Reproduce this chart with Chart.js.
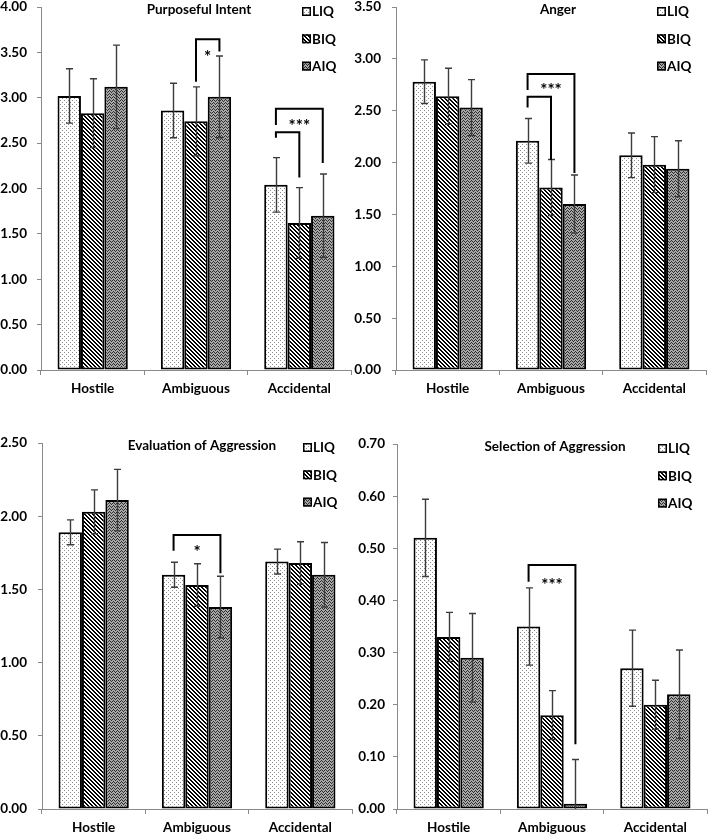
<!DOCTYPE html>
<html><head><meta charset="utf-8">
<script src="https://cdn.jsdelivr.net/npm/chart.js@4.4.1/dist/chart.umd.min.js"></script>
<style>
html,body{margin:0;padding:0;background:#fff;}
body{width:708px;height:836px;position:relative;overflow:hidden;}
.panel{position:absolute;}
</style></head><body>
<div class="panel" style="left:0;top:0;width:354px;height:400px"><canvas id="c1"></canvas></div>
<div class="panel" style="left:354px;top:0;width:354px;height:400px"><canvas id="c2"></canvas></div>
<div class="panel" style="left:0;top:430px;width:354px;height:406px"><canvas id="c3"></canvas></div>
<div class="panel" style="left:354px;top:430px;width:354px;height:406px"><canvas id="c4"></canvas></div>
<script>
const categories = ['Hostile', 'Ambiguous', 'Accidental'];
const groups = ['LIQ', 'BIQ', 'AIQ'];

// Purposeful Intent
const intentLIQ = [3.02, 2.86, 2.04];
const intentBIQ = [2.83, 2.74, 1.62];
const intentAIQ = [3.12, 3.01, 1.70];
const intentLIQErr = [0.30, 0.30, 0.30];
const intentBIQErr = [0.38, 0.38, 0.39];
const intentAIQErr = [0.46, 0.45, 0.46];
const intentBrackets = [
  {cat: 1, from: 1, to: 2, top: 3.645, left: 3.175, right: 3.51},
  {cat: 2, from: 0, to: 2, top: 2.88, left: 2.70, right: 2.28},
  {cat: 2, from: 0, to: 1, top: 2.62, left: 2.56, right: 2.12}
];
const intentStars = [
  {cat: 1, from: 1, to: 2, y: 3.49, text: '*'},
  {cat: 2, from: 0, to: 2, y: 2.73, text: '***'}
];

// Anger
const angerLIQ = [2.78, 2.21, 2.07];
const angerBIQ = [2.64, 1.76, 1.98];
const angerAIQ = [2.53, 1.60, 1.94];
const angerLIQErr = [0.21, 0.215, 0.215];
const angerBIQErr = [0.27, 0.27, 0.27];
const angerAIQErr = [0.27, 0.28, 0.27];
const angerBrackets = [
  {cat: 1, from: 0, to: 2, top: 2.855, left: 2.70, right: 1.90},
  {cat: 1, from: 0, to: 1, top: 2.635, left: 2.53, right: 2.025}
];
const angerStars = [
  {cat: 1, from: 0, to: 2, y: 2.73, text: '***'}
];

// Evaluation of Aggression
const evalLIQ = [1.89, 1.60, 1.69];
const evalBIQ = [2.03, 1.53, 1.68];
const evalAIQ = [2.11, 1.38, 1.60];
const evalLIQErr = [0.085, 0.085, 0.085];
const evalBIQErr = [0.15, 0.145, 0.145];
const evalAIQErr = [0.21, 0.21, 0.22];
const evalBrackets = [
  {cat: 1, from: 0, to: 2, top: 1.872, left: 1.764, right: 1.61}
];
const evalStars = [
  {cat: 1, from: 0, to: 2, y: 1.776, text: '*'}
];

// Selection of Aggression
const selLIQ = [0.52, 0.35, 0.27];
const selBIQ = [0.33, 0.18, 0.20];
const selAIQ = [0.29, 0.01, 0.22];
const selLIQErr = [0.074, 0.074, 0.073];
const selBIQErr = [0.047, 0.047, 0.047];
const selAIQErr = [0.085, 0.085, 0.085];
const selBrackets = [
  {cat: 1, from: 0, to: 2, top: 0.468, left: 0.436, right: 0.124}
];
const selStars = [
  {cat: 1, from: 0, to: 2, y: 0.437, text: '***'}
];

const FONT = 'Lato, "DejaVu Sans", sans-serif';

function makePattern(type) {
  const c = document.createElement('canvas');
  const g = c.getContext('2d');
  if (type === 'dots') {
    c.width = 4; c.height = 4;
    g.fillStyle = '#ffffff'; g.fillRect(0, 0, 4, 4);
    g.fillStyle = '#8c8c8c';
    g.fillRect(0, 0, 1, 1); g.fillRect(2, 2, 1, 1);
  } else if (type === 'diag') {
    c.width = 4; c.height = 4;
    g.fillStyle = '#ffffff'; g.fillRect(0, 0, 4, 4);
    g.fillStyle = '#000000';
    for (let yy = 0; yy < 4; yy++) {
      g.fillRect(yy % 4, yy, 1, 1);
      g.fillRect((yy + 1) % 4, yy, 1, 1);
    }
  } else {
    c.width = 4; c.height = 3;
    g.fillStyle = '#a8a8a8'; g.fillRect(0, 0, 4, 3);
    g.fillStyle = '#2e2e2e';
    const zy = [1, 0, 1, 2];
    for (let xx = 0; xx < 4; xx++) g.fillRect(xx, zy[xx], 1, 1);
  }
  return g.createPattern(c, 'repeat');
}
const fills = [makePattern('dots'), makePattern('diag'), makePattern('zig')];

const overlay = {
  id: 'overlay',
  afterDatasetsDraw(chart, args, opts) {
    const ctx = chart.ctx, a = chart.chartArea, y = chart.scales.y;
    // error bars
    ctx.save();
    ctx.beginPath();
    ctx.rect(a.left, a.top - 30, a.right - a.left, a.bottom - a.top + 30);
    ctx.clip();
    ctx.strokeStyle = '#3c3c3c';
    ctx.lineWidth = 1.4;
    chart.data.datasets.forEach((ds, i) => {
      const meta = chart.getDatasetMeta(i);
      meta.data.forEach((bar, j) => {
        const v = ds.data[j], e = opts.errors[i][j];
        const yt = y.getPixelForValue(v + e), yb = y.getPixelForValue(v - e);
        const cx = Math.round(bar.x) + 0.5;
        ctx.beginPath();
        ctx.moveTo(cx, yt); ctx.lineTo(cx, yb);
        ctx.moveTo(cx - 3.5, yt); ctx.lineTo(cx + 3.5, yt);
        ctx.moveTo(cx - 3.5, yb); ctx.lineTo(cx + 3.5, yb);
        ctx.stroke();
      });
    });
    ctx.restore();
    // brackets
    ctx.save();
    ctx.strokeStyle = '#000';
    ctx.lineWidth = 2;
    opts.brackets.forEach(b => {
      const x1 = chart.getDatasetMeta(b.from).data[b.cat].x;
      const x2 = chart.getDatasetMeta(b.to).data[b.cat].x;
      const yt = y.getPixelForValue(b.top);
      ctx.beginPath();
      ctx.moveTo(x1, y.getPixelForValue(b.left));
      ctx.lineTo(x1, yt);
      ctx.lineTo(x2, yt);
      ctx.lineTo(x2, y.getPixelForValue(b.right));
      ctx.stroke();
    });
    ctx.fillStyle = '#000';
    ctx.font = 'bold 17px ' + FONT;
    ctx.textAlign = 'center';
    ctx.textBaseline = 'middle';
    opts.stars.forEach(s => {
      const x1 = chart.getDatasetMeta(s.from).data[s.cat].x;
      const x2 = chart.getDatasetMeta(s.to).data[s.cat].x;
      ctx.fillText(s.text, (x1 + x2) / 2, y.getPixelForValue(s.y) + 4);
    });
    // title
    ctx.font = 'bold 13.5px ' + FONT;
    ctx.fillText(opts.title, (a.left + a.right) / 2 + opts.titleDx, a.top + 3);
    // legend
    const lx = a.right - 49;
    groups.forEach((gname, i) => {
      const cy = a.top + 4 + i * 27.3;
      ctx.fillStyle = fills[i];
      ctx.fillRect(lx, cy - 4, 9, 9);
      ctx.strokeStyle = '#000';
      ctx.lineWidth = 1.5;
      ctx.strokeRect(lx + 0.75, cy - 3.25, 7.5, 7.5);
      ctx.fillStyle = '#000';
      ctx.textAlign = 'left';
      ctx.fillText(gname, lx + 10, cy + 1);
    });
    ctx.restore();
  }
};

function makeChart(id, cfg) {
  const datasets = groups.map((g, i) => ({
    label: g,
    data: cfg.values[i],
    backgroundColor: fills[i],
    borderColor: '#000',
    borderWidth: 2,
    borderSkipped: false,
    categoryPercentage: 0.68,
    barPercentage: 1.0
  }));
  return new Chart(document.getElementById(id), {
    type: 'bar',
    data: {labels: categories, datasets},
    plugins: [overlay],
    options: {
      responsive: true,
      maintainAspectRatio: false,
      animation: false,
      events: [],
      layout: {padding: cfg.pad},
      plugins: {
        legend: {display: false},
        title: {display: false},
        tooltip: {enabled: false},
        overlay: {
          errors: cfg.errors, brackets: cfg.brackets, stars: cfg.stars,
          title: cfg.title, titleDx: cfg.titleDx
        }
      },
      scales: {
        x: {
          afterFit(s) { s.height = cfg.xH; s.paddingLeft = 0; s.paddingRight = 0; },
          grid: {display: true, offset: true, drawOnChartArea: false, drawTicks: true, tickLength: 5, color: '#8a8a8a'},
          border: {display: true, color: '#8a8a8a', width: 1},
          ticks: {color: '#000', padding: 6, font: {family: FONT, size: 13.5, weight: 'bold'}}
        },
        y: {
          min: 0, max: cfg.yMax,
          afterFit(s) { s.width = cfg.yW; s.paddingTop = 0; s.paddingBottom = 0; },
          grid: {display: true, drawOnChartArea: false, drawTicks: true, tickLength: 4, color: '#8a8a8a'},
          border: {display: true, color: '#8a8a8a', width: 1},
          ticks: {
            stepSize: cfg.step, color: '#000', padding: cfg.yPad,
            font: {family: FONT, size: 13.5, weight: 'bold'},
            callback: v => Number(v).toFixed(2)
          }
        }
      }
    }
  });
}

makeChart('c1', {
  title: 'Purposeful Intent', titleDx: 3,
  values: [intentLIQ, intentBIQ, intentAIQ],
  errors: [intentLIQErr, intentBIQErr, intentAIQErr],
  brackets: intentBrackets, stars: intentStars,
  yMax: 4, step: 0.5, pad: {top: 7, right: 3, left: 0, bottom: 0}, yW: 41, xH: 30, yPad: 10
});
makeChart('c2', {
  title: 'Anger', titleDx: 7,
  values: [angerLIQ, angerBIQ, angerAIQ],
  errors: [angerLIQErr, angerBIQErr, angerAIQErr],
  brackets: angerBrackets, stars: angerStars,
  yMax: 3.5, step: 0.5, pad: {top: 7, right: 2, left: 0, bottom: 0}, yW: 42, xH: 30, yPad: 11
});
makeChart('c3', {
  title: 'Evaluation of Aggression', titleDx: 5,
  values: [evalLIQ, evalBIQ, evalAIQ],
  errors: [evalLIQErr, evalBIQErr, evalAIQErr],
  brackets: evalBrackets, stars: evalStars,
  yMax: 2.5, step: 0.5, pad: {top: 13, right: 2, left: 0, bottom: 0}, yW: 42, xH: 27, yPad: 11
});
makeChart('c4', {
  title: 'Selection of Aggression', titleDx: 3,
  values: [selLIQ, selBIQ, selAIQ],
  errors: [selLIQErr, selBIQErr, selAIQErr],
  brackets: selBrackets, stars: selStars,
  yMax: 0.7, step: 0.1, pad: {top: 14, right: 1, left: 0, bottom: 0}, yW: 43, xH: 27, yPad: 8
});
</script>
</body></html>
